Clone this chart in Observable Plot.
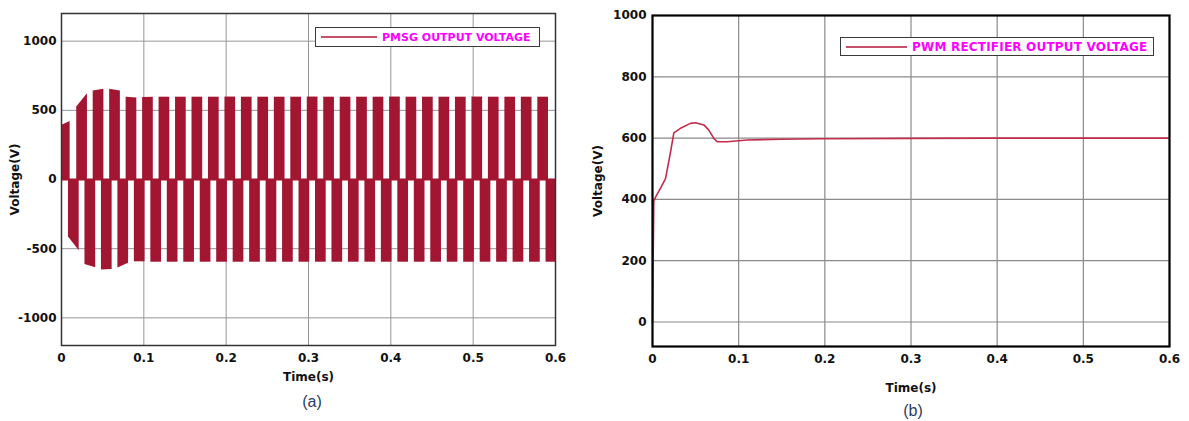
<!DOCTYPE html>
<html>
<head>
<meta charset="utf-8">
<script src="https://cdn.jsdelivr.net/npm/d3@7"></script>
<script src="https://cdn.jsdelivr.net/npm/@observablehq/plot@0.6"></script>
<style>
  html, body { margin: 0; padding: 0; background: #fff; }
  body { width: 1189px; height: 421px; position: relative; overflow: hidden; font-family: "DejaVu Sans", sans-serif; }
  #chartA { position: absolute; left: 0; top: 0; }
  #chartB { position: absolute; left: 600px; top: 0; }
  .legend { position: absolute; box-sizing: border-box; background: #fff; border: 1.5px solid #3a3a3a; display: flex; align-items: center; }
  .legend .swatch { height: 2px; flex: none; }
  .legend .txt { font-weight: bold; color: #ff00ff; white-space: nowrap; }
  .caption { position: absolute; font-family: "Liberation Sans", sans-serif; font-size: 16px; color: #2b3a66; transform: translate(-50%, -50%); }
</style>
</head>
<body>
<div id="chartA"></div>
<div id="chartB"></div>

<div class="legend" style="left:315px; top:27px; width:225px; height:20px;">
  <div class="swatch" style="margin-left:5px; width:56px; background:#c4506a;"></div>
  <div class="txt" style="margin-left:5px; font-size:11px;">PMSG OUTPUT VOLTAGE</div>
</div>
<div class="legend" style="left:840px; top:37px; width:314px; height:19px;">
  <div class="swatch" style="margin-left:5px; width:61px; background:#c4506a;"></div>
  <div class="txt" style="margin-left:5px; font-size:12px; letter-spacing:0.2px;">PWM RECTIFIER OUTPUT VOLTAGE</div>
</div>
<div class="caption" style="left:312px; top:402px;">(a)</div>
<div class="caption" style="left:913px; top:411px;">(b)</div>

<script>
// ---------- Shared x axis ----------
const xTicks = [0, 0.1, 0.2, 0.3, 0.4, 0.5, 0.6];
const xTickLabels = ["0", "0.1", "0.2", "0.3", "0.4", "0.5", "0.6"];

// ---------- (a) PMSG output voltage ----------
const yTicksA = [-1000, -500, 0, 500, 1000];
const yTickLabelsA = ["-1000", "-500", "0", "500", "1000"];

// positive half-wave envelope pulses (time in s, voltage in V)
const posStart = [0, 0.0185, 0.0385, 0.0585, 0.0785, 0.0985, 0.1185, 0.1385, 0.1585, 0.1785, 0.1985, 0.2185, 0.2385, 0.2585, 0.2785, 0.2985, 0.3185, 0.3385, 0.3585, 0.3785, 0.3985, 0.4185, 0.4385, 0.4585, 0.4785, 0.4985, 0.5185, 0.5385, 0.5585, 0.5785];
const posEnd   = [0.0105, 0.0315, 0.0515, 0.0715, 0.0915, 0.1115, 0.1315, 0.1515, 0.1715, 0.1915, 0.2115, 0.2315, 0.2515, 0.2715, 0.2915, 0.3115, 0.3315, 0.3515, 0.3715, 0.3915, 0.4115, 0.4315, 0.4515, 0.4715, 0.4915, 0.5115, 0.5315, 0.5515, 0.5715, 0.5915];
const posPeakStart = [390, 525, 640, 652, 595, 592, 595, 595, 595, 595, 596, 595, 595, 595, 595, 596, 595, 595, 595, 595, 596, 595, 595, 595, 595, 596, 595, 595, 595, 595];
const posPeakEnd   = [420, 620, 652, 640, 590, 595, 595, 595, 595, 595, 596, 595, 595, 595, 595, 596, 595, 595, 595, 595, 596, 595, 595, 595, 595, 596, 595, 595, 595, 595];

// negative half-wave envelope pulses
const negStart = [0.0085, 0.0285, 0.0485, 0.0685, 0.0885, 0.1085, 0.1285, 0.1485, 0.1685, 0.1885, 0.2085, 0.2285, 0.2485, 0.2685, 0.2885, 0.3085, 0.3285, 0.3485, 0.3685, 0.3885, 0.4085, 0.4285, 0.4485, 0.4685, 0.4885, 0.5085, 0.5285, 0.5485, 0.5685, 0.5885];
const negEnd   = [0.0215, 0.0415, 0.0615, 0.0815, 0.1015, 0.1215, 0.1415, 0.1615, 0.1815, 0.2015, 0.2215, 0.2415, 0.2615, 0.2815, 0.3015, 0.3215, 0.3415, 0.3615, 0.3815, 0.4015, 0.4215, 0.4415, 0.4615, 0.4815, 0.5015, 0.5215, 0.5415, 0.5615, 0.5815, 0.6];
const negPeakStart = [-415, -615, -655, -640, -595, -598, -598, -598, -598, -598, -598, -598, -598, -598, -598, -598, -598, -598, -598, -598, -598, -598, -598, -598, -598, -598, -598, -598, -598, -598];
const negPeakEnd   = [-515, -638, -650, -605, -595, -598, -598, -598, -598, -598, -598, -598, -598, -598, -598, -598, -598, -598, -598, -598, -598, -598, -598, -598, -598, -598, -598, -598, -598, -598];

// ---------- (b) PWM rectifier output voltage ----------
const yTicksB = [0, 200, 400, 600, 800, 1000];
const yTickLabelsB = ["0", "200", "400", "600", "800", "1000"];
const rectTime    = [0, 0.0015, 0.0046, 0.01, 0.0151, 0.02, 0.0248, 0.0325, 0.044, 0.05, 0.0596, 0.0654, 0.0712, 0.0751, 0.0867, 0.11, 0.149, 0.195, 0.3, 0.4, 0.5, 0.6];
const rectVoltage = [0, 395, 413, 440, 468, 540, 617, 632, 648, 650, 643, 626, 599, 588, 588, 594, 596, 598, 599, 600, 600, 600];

// ---------- build tables ----------
const pulseTable = [];
posStart.forEach((s, i) => {
  pulseTable.push({id: "p" + i, t: s, v: posPeakStart[i]});
  pulseTable.push({id: "p" + i, t: posEnd[i], v: posPeakEnd[i]});
});
negStart.forEach((s, i) => {
  pulseTable.push({id: "n" + i, t: s, v: negPeakStart[i]});
  pulseTable.push({id: "n" + i, t: negEnd[i], v: negPeakEnd[i]});
});
const rectTable = rectTime.map((t, i) => ({t, v: rectVoltage[i]}));

const RED = "#a31631";
const LINE_RED = "#c42c4c";
const fmt = (ticks, labels) => d => labels[ticks.indexOf(d)] ?? "";

const chartA = Plot.plot({
  width: 580, height: 395,
  marginLeft: 61, marginRight: 25, marginTop: 13, marginBottom: 50,
  style: {fontFamily: "DejaVu Sans", fontSize: "12px", fontWeight: "bold", color: "#111", background: "transparent", overflow: "visible"},
  x: {domain: [0, 0.6], ticks: xTicks, tickFormat: fmt(xTicks, xTickLabels), tickSize: 0, tickPadding: 8,
      label: "Time(s)", labelAnchor: "center", labelOffset: 35, labelArrow: "none"},
  y: {domain: [-1200, 1200], ticks: yTicksA, tickFormat: fmt(yTicksA, yTickLabelsA), tickSize: 0, tickPadding: 5,
      label: "Voltage(V)", labelAnchor: "center", labelOffset: 51, labelArrow: "none"},
  marks: [
    Plot.ruleX(xTicks, {stroke: "#969696", strokeWidth: 1}),
    Plot.ruleY(yTicksA, {stroke: "#969696", strokeWidth: 1}),
    Plot.areaY(pulseTable, {x: "t", y1: 0, y2: "v", z: "id", fill: RED}),
    Plot.ruleY([0], {stroke: RED, strokeWidth: 2}),
    Plot.frame({stroke: "#333", strokeWidth: 1.5})
  ]
});
document.getElementById("chartA").append(chartA);

const chartB = Plot.plot({
  width: 589, height: 400,
  marginLeft: 52, marginRight: 20, marginTop: 15, marginBottom: 54,
  style: {fontFamily: "DejaVu Sans", fontSize: "12px", fontWeight: "bold", color: "#111", background: "transparent", overflow: "visible"},
  x: {domain: [0, 0.6], ticks: xTicks, tickFormat: fmt(xTicks, xTickLabels), tickSize: 0, tickPadding: 8,
      label: "Time(s)", labelAnchor: "center", labelOffset: 45, labelArrow: "none"},
  y: {domain: [-80, 1000], ticks: yTicksB, tickFormat: fmt(yTicksB, yTickLabelsB), tickSize: 0, tickPadding: 6,
      label: "Voltage(V)", labelAnchor: "center", labelOffset: 59, labelArrow: "none"},
  marks: [
    Plot.ruleX(xTicks, {stroke: "#8a8a8a", strokeWidth: 1.2}),
    Plot.ruleY(yTicksB, {stroke: "#8a8a8a", strokeWidth: 1.2}),
    Plot.line(rectTable, {x: "t", y: "v", stroke: LINE_RED, strokeWidth: 1.6}),
    Plot.frame({stroke: "#000", strokeWidth: 2.2})
  ]
});
document.getElementById("chartB").append(chartB);
</script>
</body>
</html>
